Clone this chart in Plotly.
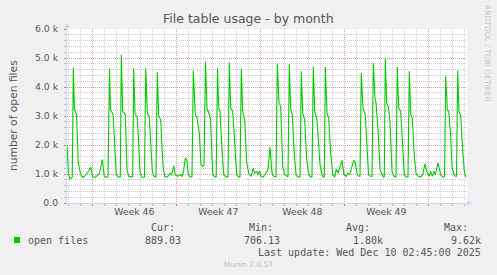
import pandas as pd
import plotly.graph_objects as go

# ---------------- data (hours after graph start, open files) ----------------
graph_start = pd.Timestamp("2025-11-06 21:24")
graph_end = pd.Timestamp("2025-12-10 05:24")

lead_hours = [0, 3, 6, 10.5, 12.6, 15, 19, 22.6, 26, 29.4, 33, 39.4, 44.6, 47.4]
lead_vals = [2000, 1000, 830, 880, 4660, 3220, 3050, 1380, 1090, 920, 880, 1000, 1130, 1230]

w46_hours = [51.4, 56, 60.6, 64.6, 70.6, 74.6, 79.4, 82, 85, 87, 92, 95.4, 98.6, 102.6, 106.6,
             108.6, 111.4, 116.6, 120, 123.4, 129, 131.4, 133.4, 136, 140.6, 146, 150, 155,
             157.4, 160.6, 164.6, 167.4, 170.6, 174, 178, 180.6, 183.4, 187.4, 192, 195.4,
             200.6, 206, 209, 213.4, 216.6]
w46_vals = [900, 880, 960, 1000, 1500, 920, 880, 900, 4640, 3200, 3070, 1720, 980, 890, 900,
            5110, 3160, 3050, 1150, 920, 890, 900, 4650, 3080, 2960, 1090, 890, 890,
            4650, 3100, 2960, 2180, 1090, 920, 900, 4520, 3010, 2870, 1260, 920,
            890, 1030, 950, 1280, 980]

w47_hours = [221.4, 226, 229.4, 232.6, 236.6, 239.4, 242.6, 246.6, 250, 252.6, 256.6, 260,
             264.6, 268, 271.4, 274, 277, 280, 282.6, 287, 291.4, 296, 298.4, 301, 303.4,
             306, 310, 313.4, 318, 322, 324.6, 327.4, 331.4, 335.4, 339.4, 343.4, 346,
             348.6, 351.4, 355.4, 359.4, 363.4, 368, 372.6, 375.4, 379.4, 382, 385]
w47_vals = [920, 980, 920, 1030, 1550, 1500, 980, 890, 900, 4570, 3050, 2930,
            2410, 1320, 1260, 1300, 4880, 3220, 3160, 2900, 980, 890, 900, 4650, 3280,
            3160, 1840, 980, 890, 900, 4860, 3280, 3160, 2180, 980, 890, 900,
            4620, 3160, 2870, 1380, 1030, 920, 1200, 1030, 1090, 980, 1100]

w48_hours = [388, 392.6, 398, 402, 406, 410, 413.4, 418, 420.6, 424, 427.4, 431.4, 435.4,
             439.4, 442, 444.6, 447.4, 450.6, 454, 458, 462, 466, 468.6, 471.4, 475.4, 479.4,
             483.4, 487.4, 490, 492.6, 495.4, 500, 503.4, 506, 510, 512.6, 514.6, 516.6, 520,
             523.4, 527.4, 531.4, 535.4, 538.6, 542, 545.4, 550]
w48_vals = [920, 890, 1030, 1150, 1930, 1030, 920, 900, 4800, 3450, 3330, 1260, 980,
            920, 900, 4800, 3220, 3050, 1840, 980, 890, 900, 4540, 3100, 2870, 1490,
            980, 890, 900, 4710, 3160, 2870, 1840, 1320, 980, 890, 900, 4690, 3100,
            2930, 1720, 980, 890, 1170, 1030, 1200, 1470]

w49_hours = [554, 558.6, 562, 565.4, 570, 574, 576.6, 580.6, 583.4, 586, 588.6, 592, 596.6,
             600, 603, 607, 610, 612.6, 616, 618, 622.6, 626, 629.4, 632.6, 634.6, 636.6,
             639.4, 642.6, 646, 650, 654, 658, 660.6, 663.4, 667.4, 671.4, 674.6, 678, 682,
             684.6, 687.4, 690.6, 694.6, 698, 702.6, 707.4, 711.4, 716, 720.6]
w49_vals = [980, 920, 1030, 980, 1260, 1470, 1380, 980, 920, 920, 4480, 3280, 3050,
            1800, 980, 920, 920, 4830, 3620, 3450, 2410, 1150, 980, 890, 900, 5000,
            3450, 3330, 2800, 1090, 920, 900, 4690, 3280, 3160, 1720, 980, 890, 900,
            4540, 3050, 2930, 1610, 1030, 920, 890, 980, 1350, 1030]

tail_hours = [724.6, 727.4, 730.6, 734, 736.6, 742, 747.4, 751.4, 755, 757.4, 760.6, 763.4,
              767.4, 770, 774, 776.6, 779, 781.4, 784, 787.4, 791.4, 794.6, 797.4]
tail_vals = [920, 1090, 920, 1090, 980, 1380, 980, 890, 900, 4370, 3220, 3160,
             2300, 1260, 980, 920, 920, 4570, 3160, 3000, 1840, 1090, 890]

week_starts = ["2025-11-09", "2025-11-16", "2025-11-23", "2025-11-30", "2025-12-07"]
week_label_pos = ["2025-11-12 12:00", "2025-11-19 12:00", "2025-11-26 12:00", "2025-12-03 12:00"]
week_labels = ["Week 46", "Week 47", "Week 48", "Week 49"]

y_ticks = [0, 1000, 2000, 3000, 4000, 5000, 6000]
y_labels = ["0.0", "1.0 k", "2.0 k", "3.0 k", "4.0 k", "5.0 k", "6.0 k"]

series_name = "open files"
stat_cur, stat_min, stat_avg, stat_max = "889.03", "706.13", "1.80k", "9.62k"
last_update = "Last update: Wed Dec 10 02:45:00 2025"
title = "File table usage - by month"

# ---------------- build ----------------
hours = lead_hours + w46_hours + w47_hours + w48_hours + w49_hours + tail_hours
vals = lead_vals + w46_vals + w47_vals + w48_vals + w49_vals + tail_vals
times = graph_start + pd.to_timedelta(hours, unit="h")

GREEN = "#00cc00"
TXT = "#555555"
AXIS = "#cfd6f8"
MGRID = "rgba(220,120,120,0.6)"
GRID = "rgba(160,160,160,0.5)"

L, R, T, B = 67, 30, 29, 72
W, H = 497, 275
PW, PH = W - L - R, H - T - B


def px(x):
    return (x - L) / PW


def py(y):
    return (T + PH - y) / PH


fig = go.Figure()
fig.add_trace(go.Scatter(x=times, y=vals, mode="lines", line=dict(color=GREEN, width=1.1),
                         showlegend=False, hoverinfo="skip"))
fig.add_trace(go.Scatter(x=[graph_start], y=[None], xaxis="x2", yaxis="y",
                         showlegend=False, hoverinfo="skip"))

fig.update_layout(
    width=W, height=H,
    margin=dict(l=L, r=R, t=T, b=B),
    paper_bgcolor="#f0f0f0", plot_bgcolor="#ffffff",
    font=dict(family="DejaVu Sans", size=9.3, color=TXT),
    xaxis=dict(
        type="date", range=[graph_start, graph_end],
        tickmode="array", tickvals=week_starts, showticklabels=False,
        showgrid=True, gridcolor=MGRID, griddash="1px,1px", gridwidth=1,
        ticks="outside", ticklen=2, tickcolor="#e07070",
        showline=True, linecolor=AXIS, linewidth=1, zeroline=False,
        minor=dict(dtick=86400000, tick0="2025-11-09", showgrid=True, gridcolor=GRID,
                   griddash="1px,1px", ticks="outside", ticklen=2, tickcolor="#bbbbbb"),
    ),
    xaxis2=dict(
        type="date", range=[graph_start, graph_end], overlaying="x", side="bottom",
        anchor="y", tickmode="array", tickvals=week_label_pos, ticktext=week_labels,
        showgrid=False, ticks="", showline=False, zeroline=False,
        tickfont=dict(size=9.3, color=TXT), ticklabelstandoff=2,
    ),
    yaxis=dict(
        range=[0, 6000], tickmode="array", tickvals=y_ticks, ticktext=y_labels,
        showgrid=True, gridcolor=MGRID, griddash="1px,1px",
        ticks="outside", ticklen=2, tickcolor="#e07070", ticklabelstandoff=4,
        showline=True, linecolor=AXIS, zeroline=False,
        minor=dict(dtick=200, showgrid=True, gridcolor=GRID, griddash="1px,1px",
                   ticks="outside", ticklen=2, tickcolor="#bbbbbb"),
    ),
)

ann = []
ann.append(dict(text=title, x=px(248), y=py(19), xref="paper", yref="paper",
                showarrow=False, font=dict(size=12.5, color=TXT), xanchor="center", yanchor="middle"))
ann.append(dict(text="number of open files", x=px(13), y=py(116), xref="paper", yref="paper",
                showarrow=False, textangle=-90, font=dict(size=10.7, color=TXT),
                xanchor="center", yanchor="middle"))
ann.append(dict(text="RRDTOOL / TOBI OETIKER", x=px(488), y=py(53), xref="paper", yref="paper",
                showarrow=False, textangle=90, font=dict(size=7.5, color="#c8c8c8"),
                xanchor="center", yanchor="middle"))
mono = dict(family="DejaVu Sans Mono", size=10, color=TXT)
for lab, right in [("Cur:", 177), ("Min:", 275), ("Avg:", 372), ("Max:", 470)]:
    ann.append(dict(text=lab, x=px(right), y=py(227.5), xref="paper", yref="paper",
                    showarrow=False, font=mono, xanchor="right", yanchor="middle"))
for v, right in [(stat_cur, 183), (stat_min, 282), (stat_avg, 385), (stat_max, 483)]:
    ann.append(dict(text=v, x=px(right), y=py(240), xref="paper", yref="paper",
                    showarrow=False, font=mono, xanchor="right", yanchor="middle"))
ann.append(dict(text=series_name, x=px(26), y=py(240), xref="paper", yref="paper",
                showarrow=False, font=mono, xanchor="left", yanchor="middle"))
ann.append(dict(text=last_update, x=px(483), y=py(252), xref="paper", yref="paper",
                showarrow=False, font=mono, xanchor="right", yanchor="middle"))
ann.append(dict(text="Munin 2.0.57", x=px(248), y=py(264), xref="paper", yref="paper",
                showarrow=False, font=dict(size=7.5, color="#c0c0c0"),
                xanchor="center", yanchor="middle"))
fig.update_layout(annotations=ann)

shapes = [
    dict(type="rect", xref="paper", yref="paper", x0=px(14), x1=px(20), y0=py(237), y1=py(243),
         fillcolor=GREEN, line=dict(width=0)),
    dict(type="path", xref="paper", yref="paper",
         path=f"M {px(64.5)} {py(28)} L {px(69.5)} {py(28)} L {px(67)} {py(22)} Z",
         fillcolor=AXIS, line=dict(width=0)),
    dict(type="path", xref="paper", yref="paper",
         path=f"M {px(467)} {py(200.5)} L {px(467)} {py(205.5)} L {px(473)} {py(203)} Z",
         fillcolor=AXIS, line=dict(width=0)),
]
fig.update_layout(shapes=shapes)

fig.write_html("out.html")
